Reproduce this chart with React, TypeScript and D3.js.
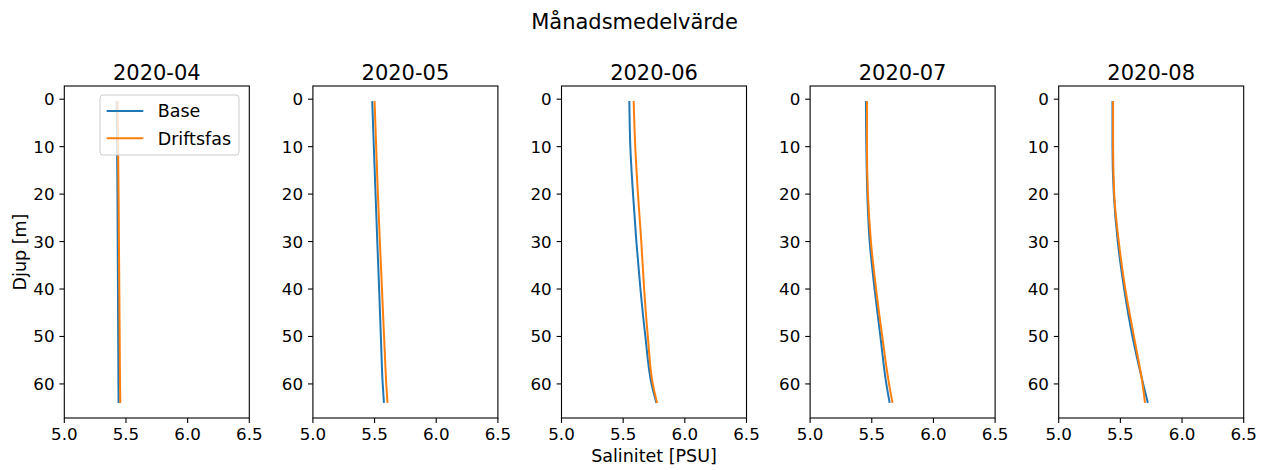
import React from "react";
import * as d3 from "d3";

// Monthly mean salinity profiles, two scenarios per month
const months = ["2020-04", "2020-05", "2020-06", "2020-07", "2020-08"];
const depths = [0.4, 10, 20, 30, 40, 50, 60, 64];

const baseSalinity = [
  [5.425, 5.428, 5.431, 5.433, 5.435, 5.437, 5.439, 5.44],
  [5.481, 5.494, 5.508, 5.522, 5.537, 5.551, 5.566, 5.576],
  [5.55, 5.558, 5.58, 5.607, 5.64, 5.68, 5.73, 5.77],
  [5.453, 5.456, 5.464, 5.483, 5.523, 5.57, 5.618, 5.645],
  [5.436, 5.436, 5.447, 5.479, 5.531, 5.598, 5.685, 5.723],
];
const driftSalinity = [
  [5.432, 5.436, 5.44, 5.443, 5.446, 5.449, 5.452, 5.454],
  [5.5, 5.513, 5.527, 5.543, 5.56, 5.577, 5.595, 5.605],
  [5.585, 5.598, 5.62, 5.647, 5.67, 5.7, 5.74, 5.775],
  [5.461, 5.461, 5.469, 5.493, 5.535, 5.585, 5.64, 5.668],
  [5.441, 5.441, 5.45, 5.487, 5.54, 5.61, 5.68, 5.7],
];

const seriesNames = ["Base", "Driftsfas"];
const seriesColors = ["#1f77b4", "#ff7f0e"];
const xTicks = [5.0, 5.5, 6.0, 6.5];
const yTicks = [0, 10, 20, 30, 40, 50, 60];

const W = 1266;
const H = 470;
const panelLeft = 64.3;
const panelStep = 248.6;
const panelW = 185;
const top = 86;
const bottom = 418;
const font = "DejaVu Sans, sans-serif";
const tickFs = 16.7;
const labelFs = 17.5;
const titleFs = 21;

export default function App() {
  const x = d3.scaleLinear().domain([5.0, 6.5]).range([0, panelW]);
  const [d0, d1] = d3.extent(depths) as [number, number];
  const pad = (d1 - d0) * 0.05;
  const y = d3.scaleLinear().domain([d0 - pad, d1 + pad]).range([top, bottom]);

  const line = d3
    .line<[number, number]>()
    .x((d) => x(d[0]))
    .y((d) => y(d[1]))
    .curve(d3.curveMonotoneY);

  return (
    <svg
      width={W}
      height={H}
      style={{ position: "absolute", left: 0, top: 0, background: "#fff" }}
      fontFamily={font}
    >
      <rect width={W} height={H} fill="#fff" />
      <text x={634.5} y={29} fontSize={titleFs} textAnchor="middle" fill="#000">
        Månadsmedelvärde
      </text>
      {months.map((m, i) => {
        const left = panelLeft + i * panelStep;
        const series = [baseSalinity[i], driftSalinity[i]];
        return (
          <g key={m} transform={`translate(${left},0)`}>
            <text x={panelW / 2} y={80} fontSize={titleFs} textAnchor="middle" fill="#000">
              {m}
            </text>
            {series.map((vals, s) => (
              <path
                key={s}
                d={line(vals.map((v, k) => [v, depths[k]] as [number, number])) || ""}
                fill="none"
                stroke={seriesColors[s]}
                strokeWidth={2}
              />
            ))}
            <rect
              x={0}
              y={top}
              width={panelW}
              height={bottom - top}
              fill="none"
              stroke="#000"
              strokeWidth={1.1}
            />
            {xTicks.map((t) => (
              <g key={t} transform={`translate(${x(t)},${bottom})`}>
                <line y2={4.9} stroke="#000" strokeWidth={1.1} />
                <text y={21.5} fontSize={tickFs} textAnchor="middle" fill="#000">
                  {t.toFixed(1)}
                </text>
              </g>
            ))}
            {yTicks.map((t) => (
              <g key={t} transform={`translate(0,${y(t)})`}>
                <line x2={-4.9} stroke="#000" strokeWidth={1.1} />
                <text x={-9.8} dy="0.36em" fontSize={tickFs} textAnchor="end" fill="#000">
                  {t}
                </text>
              </g>
            ))}
            {i === 0 && (
              <g>
                <rect
                  x={100 - left}
                  y={95}
                  width={139}
                  height={60}
                  rx={3}
                  fill="#fff"
                  fillOpacity={0.8}
                  stroke="#ccc"
                  strokeWidth={1}
                />
                {seriesNames.map((n, s) => (
                  <g key={n} transform={`translate(${106.7 - left},${111 + s * 27.3})`}>
                    <line x2={36.6} stroke={seriesColors[s]} strokeWidth={2} />
                    <text x={51} dy="0.36em" fontSize={labelFs} fill="#000">
                      {n}
                    </text>
                  </g>
                ))}
              </g>
            )}
            {i === 2 && (
              <text x={panelW / 2} y={462} fontSize={labelFs} textAnchor="middle" fill="#000">
                Salinitet [PSU]
              </text>
            )}
            {i === 0 && (
              <text
                transform={`translate(${26 - left},${(top + bottom) / 2}) rotate(-90)`}
                fontSize={labelFs}
                textAnchor="middle"
                fill="#000"
              >
                Djup [m]
              </text>
            )}
          </g>
        );
      })}
    </svg>
  );
}
